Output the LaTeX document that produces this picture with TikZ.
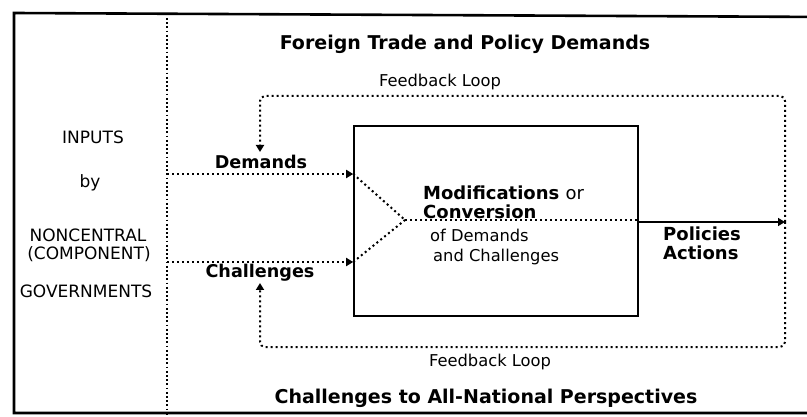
\documentclass[tikz,border=0pt]{standalone}
\usepackage{fontspec}
\setmainfont{DejaVu Sans}
\usetikzlibrary{arrows.meta}
\begin{document}
\begin{tikzpicture}[x=1pt,y=-1pt,
  llbl/.style={inner sep=0pt, font=\fontsize{17}{19}\selectfont},
  lbl/.style={inner sep=0pt, font=\fontsize{16.3}{18}\selectfont},
  blbl/.style={inner sep=0pt, font=\fontsize{17.6}{19}\selectfont\bfseries},
  mlbl/.style={inner sep=0pt, font=\fontsize{18}{19}\selectfont\bfseries},
  ttl/.style={inner sep=0pt, font=\fontsize{19}{21}\selectfont\bfseries},
  dots/.style={line width=2pt, dash pattern=on 2pt off 3pt},
  vdots/.style={line width=2pt, dash pattern=on 1.8pt off 2.4pt},
  tip/.style={-{Triangle[length=7pt,width=8pt]}}
]
\useasboundingbox (0,0) rectangle (807,417);
\clip (0,0) rectangle (807,417);
% frame
\draw[line width=2.6pt] (830,17) -- (14,13) -- (14,413) -- (830,413);
% left divider
\draw[vdots] (167,18) -- (167,415);
% left labels
\node[llbl] (inputs) at (93,137) {INPUTS};
\node[llbl] (by) at (90,183) {by};
\node[llbl] (noncentral) at (88,235) {NONCENTRAL};
\node[llbl] (component) at (89,254) {(COMPONENT)};
\node[llbl] (governments) at (86,291) {GOVERNMENTS};
% titles
\node[ttl] (toptitle) at (465,44) {Foreign Trade and Policy Demands};
\node[ttl] (bottitle) at (486,398) {Challenges to All-National Perspectives};
\node[lbl] (fbtop) at (440,82) {Feedback Loop};
\node[lbl] (fbbot) at (490,362) {Feedback Loop};
% main box
\node[draw, line width=1.6pt, minimum width=284pt, minimum height=190pt, inner sep=0pt] (box) at (496,221) {};
\node[mlbl, anchor=west] (mod) at (423,193) {Modifications \mdseries or};
\node[mlbl, anchor=west] (conv) at (423,212) {Conversion};
\node[lbl, anchor=west] (ofdem) at (430,235) {of Demands};
\node[lbl, anchor=west] (andch) at (433,257) {and Challenges};
% demands / challenges
\node[blbl] (demands) at (261,162) {Demands};
\node[blbl] (challenges) at (260,273) {Challenges};
\coordinate (dstart) at (167,174);
\coordinate (cstart) at (167,262);
\coordinate (merge) at (405,220);
\draw[dots, tip] (dstart) -- (box.west |- dstart);
\draw[dots, tip] (cstart) -- (box.west |- cstart);
\draw[dots] (box.west |- dstart) -- (merge);
\draw[dots] (box.west |- cstart) -- (merge);
\draw[dots] (merge) -- (box.east |- merge);
% output
\coordinate (out) at (785,222);
\draw[line width=1.6pt, tip] (box.east |- out) -- (out);
\node[mlbl, anchor=west] (policies) at (663,234) {Policies};
\node[mlbl, anchor=west] (actions) at (663,253) {Actions};
% feedback loops
\coordinate (dtip) at (260,152);
\coordinate (ctip) at (260,283);
\draw[dots, tip, rounded corners=5pt] (out) -- (785,96) -- (260,96) -- (dtip);
\draw[dots, tip, rounded corners=5pt] (out) -- (785,347) -- (260,347) -- (ctip);
\end{tikzpicture}
\end{document}
